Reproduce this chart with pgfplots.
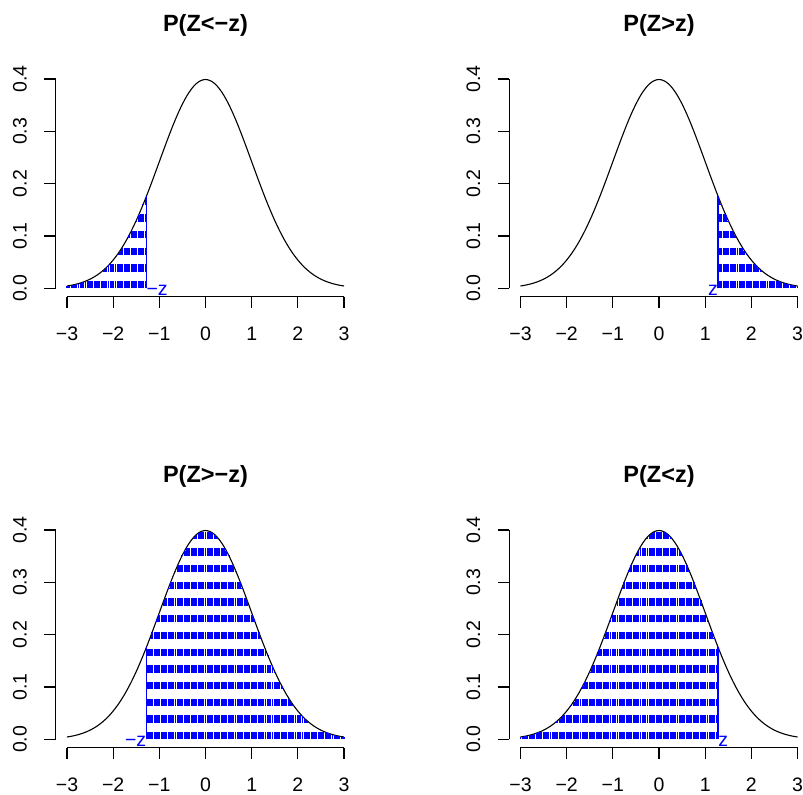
\documentclass[border=0pt]{standalone}
\usepackage{pgfplots}
\pgfplotsset{compat=1.18}
\usepackage{pgfplotstable}
\usepackage{fontspec}
\setmainfont{Liberation Sans}

\pgfplotstableread{
x y
-3.00 0.004432
-2.95 0.005143
-2.90 0.005953
-2.85 0.006873
-2.80 0.007915
-2.75 0.009094
-2.70 0.010421
-2.65 0.011912
-2.60 0.013583
-2.55 0.015449
-2.50 0.017528
-2.45 0.019837
-2.40 0.022395
-2.35 0.025218
-2.30 0.028327
-2.25 0.031740
-2.20 0.035475
-2.15 0.039559
-2.10 0.043984
-2.05 0.048792
-2.00 0.053991
-1.95 0.059595
-1.90 0.065616
-1.85 0.072065
-1.80 0.078950
-1.75 0.086277
-1.70 0.094049
-1.65 0.102265
-1.60 0.110921
-1.55 0.120009
-1.50 0.129518
-1.45 0.139431
-1.40 0.149727
-1.35 0.160383
-1.30 0.171369
-1.25 0.182649
-1.20 0.194186
-1.15 0.205936
-1.10 0.217852
-1.05 0.229882
-1.00 0.241971
-0.95 0.254059
-0.90 0.266085
-0.85 0.277985
-0.80 0.289692
-0.75 0.301137
-0.70 0.312254
-0.65 0.322972
-0.60 0.333225
-0.55 0.342944
-0.50 0.352065
-0.45 0.360527
-0.40 0.368270
-0.35 0.375240
-0.30 0.381388
-0.25 0.386668
-0.20 0.391043
-0.15 0.394479
-0.10 0.396953
-0.05 0.398444
0.00 0.398942
0.05 0.398444
0.10 0.396953
0.15 0.394479
0.20 0.391043
0.25 0.386668
0.30 0.381388
0.35 0.375240
0.40 0.368270
0.45 0.360527
0.50 0.352065
0.55 0.342944
0.60 0.333225
0.65 0.322972
0.70 0.312254
0.75 0.301137
0.80 0.289692
0.85 0.277985
0.90 0.266085
0.95 0.254059
1.00 0.241971
1.05 0.229882
1.10 0.217852
1.15 0.205936
1.20 0.194186
1.25 0.182649
1.30 0.171369
1.35 0.160383
1.40 0.149727
1.45 0.139431
1.50 0.129518
1.55 0.120009
1.60 0.110921
1.65 0.102265
1.70 0.094049
1.75 0.086277
1.80 0.078950
1.85 0.072065
1.90 0.065616
1.95 0.059595
2.00 0.053991
2.05 0.048792
2.10 0.043984
2.15 0.039559
2.20 0.035475
2.25 0.031740
2.30 0.028327
2.35 0.025218
2.40 0.022395
2.45 0.019837
2.50 0.017528
2.55 0.015449
2.60 0.013583
2.65 0.011912
2.70 0.010421
2.75 0.009094
2.80 0.007915
2.85 0.006873
2.90 0.005953
2.95 0.005143
3.00 0.004432
}\dens

\tikzset{
  rl/.style={line width=1.1bp, black},
  tl/.style={font=\fontsize{19.5bp}{23bp}\selectfont, inner sep=0pt},
  ttl/.style={font=\fontsize{23.5bp}{28bp}\selectfont\bfseries, inner sep=0pt},
  shade/.style={ycomb, blue, line width=1.9bp, line cap=butt,
    dash pattern=on 7.3bp off 9.4bp, no marks},
}
\pgfplotsset{rpanel/.style={scale only axis, width=299.2bp, height=226.1bp,
  xmin=-3.24, xmax=3.24, ymin=-0.016, ymax=0.416, hide axis, clip=false,
  anchor=south west}}

% R-style axes drawn in a scope whose units are the data units of a panel
% #1,#2: lower-left corner of the plot box (bp); #3 title
\newcommand{\rframe}[3]{%
\begin{scope}[shift={(#1bp+149.6bp,#2bp+8.374bp)}, x=46.173bp, y=523.38bp]
  \draw[rl] (-3,-0.016) -- (3,-0.016);
  \draw[rl] (-3.24,0) -- (-3.24,0.4);
  \foreach \v/\l in {-3/−3,-2/−2,-1/−1,0/0,1/1,2/2,3/3}{%
    \draw[rl] (\v,-0.016) -- ++(0,-11.7bp);
    \node[tl,anchor=base] at ([yshift=-43.5bp]\v,-0.016) {\l};}
  \foreach \v/\l in {0/0.0,0.1/0.1,0.2/0.2,0.3/0.3,0.4/0.4}{%
    \draw[rl] (-3.24,\v) -- ++(-11.7bp,0);
    \node[tl,rotate=90,anchor=base] at ([xshift=-29.2bp]-3.24,\v) {\l};}
  \node[ttl,anchor=base] at ([yshift=38.6bp]0,0.416) {#3};
\end{scope}}

\newcommand{\zlab}[5]{% #1,#2 panel corner; #3 x; #4 anchor; #5 text
\begin{scope}[shift={(#1bp+149.6bp,#2bp+8.374bp)}, x=46.173bp, y=523.38bp]
  \node[tl,anchor=#4,text=blue] at ([yshift=-7bp]#3,0) {#5};
\end{scope}}

\begin{document}
\begin{tikzpicture}
% Panel 1: P(Z<-z)
\begin{axis}[rpanel, at={(55.9bp,498.3bp)}]
  \addplot[black, line width=1.1bp, no marks] table {\dens};
  \addplot[shade, restrict x to domain=-3.01:-1.29] table {\dens};
  \addplot[blue, line width=1.3bp, no marks] coordinates {(-1.28,0) (-1.28,0.175850)};
\end{axis}
\rframe{55.9}{498.3}{P(Z<−z)}
\zlab{55.9}{498.3}{-1.28}{base west}{−z}
% Panel 2: P(Z>z)
\begin{axis}[rpanel, at={(509.4bp,498.3bp)}]
  \addplot[black, line width=1.1bp, no marks] table {\dens};
  \addplot[shade, restrict x to domain=1.29:3.01] table {\dens};
  \addplot[blue, line width=1.3bp, no marks] coordinates {(1.28,0) (1.28,0.175850)};
\end{axis}
\rframe{509.4}{498.3}{P(Z>z)}
\zlab{509.4}{498.3}{1.28}{base east}{z}
% Panel 3: P(Z>-z)
\begin{axis}[rpanel, at={(55.9bp,47.3bp)}]
  \addplot[black, line width=1.1bp, no marks] table {\dens};
  \addplot[shade, restrict x to domain=-1.27:3.01] table {\dens};
  \addplot[blue, line width=1.3bp, no marks] coordinates {(-1.28,0) (-1.28,0.175850)};
\end{axis}
\rframe{55.9}{47.3}{P(Z>−z)}
\zlab{55.9}{47.3}{-1.28}{base east}{−z}
% Panel 4: P(Z<z)
\begin{axis}[rpanel, at={(509.4bp,47.3bp)}]
  \addplot[black, line width=1.1bp, no marks] table {\dens};
  \addplot[shade, restrict x to domain=-3.01:1.27] table {\dens};
  \addplot[blue, line width=1.3bp, no marks] coordinates {(1.28,0) (1.28,0.175850)};
\end{axis}
\rframe{509.4}{47.3}{P(Z<z)}
\zlab{509.4}{47.3}{1.28}{base west}{z}
\pgfresetboundingbox
\useasboundingbox (0,0) rectangle (803bp,795bp);
\end{tikzpicture}
\end{document}
